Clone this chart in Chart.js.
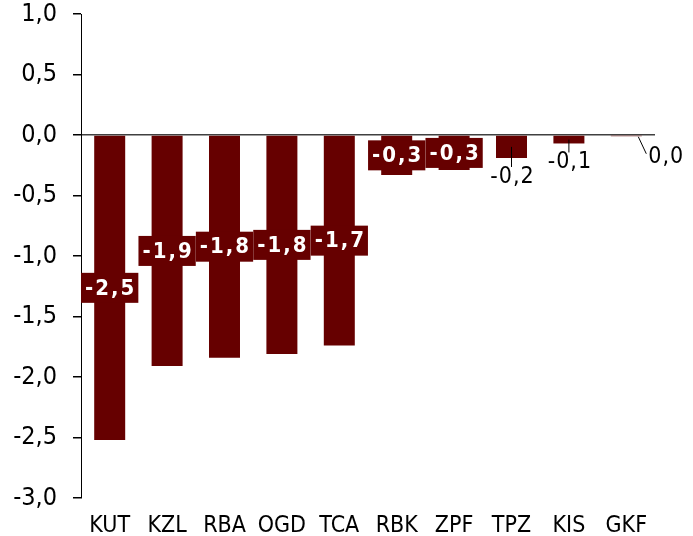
<!DOCTYPE html>
<html>
<head>
<meta charset="utf-8">
<script src="https://cdn.jsdelivr.net/npm/chart.js@4"></script>
<style>
  html, body { margin: 0; padding: 0; background: #fff; }
  #wrap { width: 693px; height: 536px; }
</style>
</head>
<body>
<div id="wrap"><canvas id="myChart" width="693" height="536"></canvas></div>
<script>
// kategori dan nilai
var categories = ['KUT', 'KZL', 'RBA', 'OGD', 'TCA', 'RBK', 'ZPF', 'TPZ', 'KIS', 'GKF'];
var values = [-2.52, -1.91, -1.84, -1.81, -1.74, -0.33, -0.29, -0.19, -0.07, -0.01];
var yTicks = [1.0, 0.5, 0.0, -0.5, -1.0, -1.5, -2.0, -2.5, -3.0];

var barColor = '#660000';
var fontFam = '"DejaVu Sans Condensed", "DejaVu Sans", Tahoma, sans-serif';

function fmt(v) {
    var s = (Math.round(v * 10) / 10).toFixed(1);
    if (s === '-0.0') s = '0.0';
    return s.replace('.', ',');
}

// label nilai di batang
var barLabels = {
    id: 'barLabels',
    afterDatasetsDraw: function (chart) {
        var ctx = chart.ctx;
        var meta = chart.getDatasetMeta(0);
        ctx.save();
        ctx.textBaseline = 'middle';
        ctx.textAlign = 'center';
        meta.data.forEach(function (bar, i) {
            var v = values[i];
            var p = bar.getProps(['x', 'y', 'base'], true);
            var txt = fmt(v);
            if (Math.abs(v) >= 0.25) {
                ctx.letterSpacing = '2px';
                ctx.font = 'bold 22px ' + fontFam;
                var w = ctx.measureText(txt).width + 6;
                var cy = (p.y + p.base) / 2;
                ctx.fillStyle = barColor;
                ctx.fillRect(p.x - w / 2, cy - 15, w, 30);
                ctx.fillStyle = '#fff';
                ctx.fillText(txt, p.x + 1, cy + 1);
            } else if (Math.abs(v) >= 0.05) {
                ctx.letterSpacing = '1px';
                ctx.font = '23px ' + fontFam;
                var mid = (p.y + p.base) / 2;
                var ty = p.y + 19;
                ctx.strokeStyle = '#000';
                ctx.lineWidth = 1;
                ctx.beginPath();
                ctx.moveTo(p.x, mid);
                ctx.lineTo(p.x, ty - 10);
                ctx.stroke();
                ctx.fillStyle = '#000';
                ctx.fillText(txt, p.x + 1, ty);
            } else {
                ctx.letterSpacing = '1px';
                ctx.font = '23px ' + fontFam;
                ctx.strokeStyle = '#000';
                ctx.lineWidth = 1;
                ctx.beginPath();
                ctx.moveTo(p.x + 12, p.base + 1);
                ctx.lineTo(p.x + 20, p.base + 18);
                ctx.stroke();
                ctx.fillStyle = '#000';
                ctx.textAlign = 'left';
                ctx.fillText(txt, p.x + 22, p.base + 21);
            }
        });
        ctx.restore();
    }
};

var ctx = document.getElementById('myChart').getContext('2d');
var chart = new Chart(ctx, {
    type: 'bar',
    data: {
        labels: categories,
        datasets: [{
            data: values,
            backgroundColor: barColor,
            borderWidth: 0,
            categoryPercentage: 1.0,
            barPercentage: 0.54
        }]
    },
    options: {
        responsive: false,
        animation: false,
        layout: { padding: { top: 14, right: 38, left: 0, bottom: 0 } },
        plugins: {
            legend: { display: false },
            tooltip: { enabled: false }
        },
        scales: {
            x: {
                grid: { display: false },
                border: { display: false },
                ticks: {
                    color: '#000',
                    padding: 6,
                    font: { family: fontFam, size: 23 }
                },
                afterFit: function (s) { s.height = 38; }
            },
            y: {
                min: -3,
                max: 1,
                afterBuildTicks: function (s) {
                    s.ticks = yTicks.map(function (v) { return { value: v }; });
                },
                border: { display: true, color: '#000', width: 1 },
                grid: {
                    color: function (c) { return c.tick && c.tick.value === 0 ? '#404040' : 'rgba(0,0,0,0)'; },
                    lineWidth: 1.5,
                    tickColor: '#000',
                    tickLength: 8,
                    drawOnChartArea: true
                },
                ticks: {
                    color: '#000',
                    padding: 16,
                    font: { family: fontFam, size: 25 },
                    callback: function (v) { return fmt(v); }
                },
                afterFit: function (s) {
                    s.width = 81;
                    s.paddingTop = 0;
                    s.paddingBottom = 0;
                }
            }
        }
    },
    plugins: [barLabels]
});
</script>
</body>
</html>
